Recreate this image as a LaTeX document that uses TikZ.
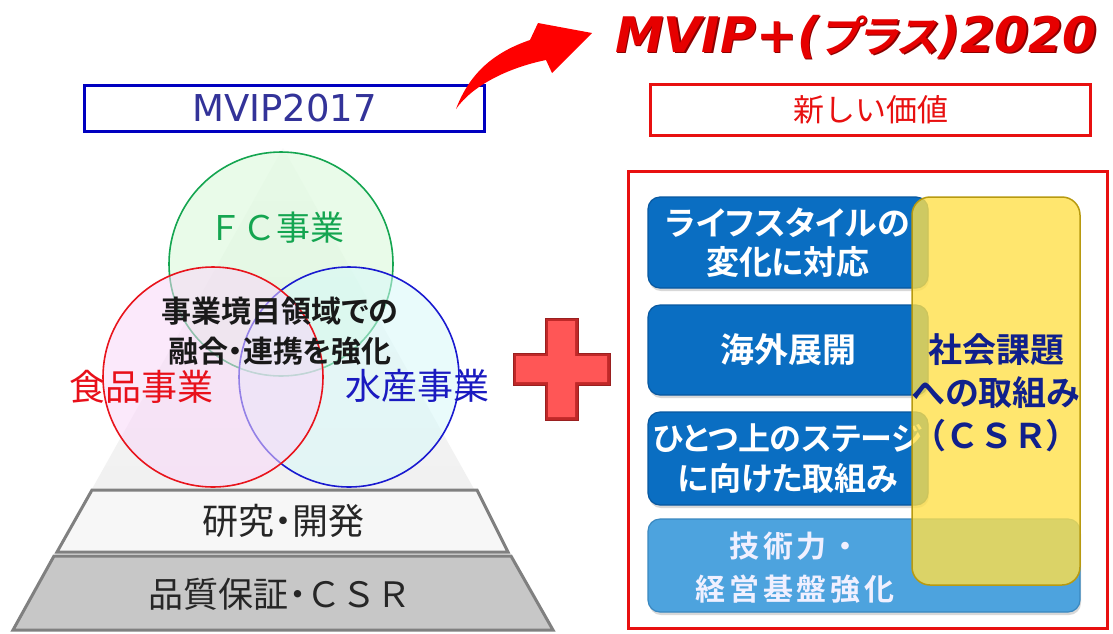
\documentclass[tikz,border=0pt]{standalone}
\usepackage{fontspec}
\setmainfont{DejaVu Sans}
\newfontfamily\jp[RawFeature=+palt,BoldFont={Noto Sans CJK JP Bold}]{Noto Sans CJK JP}
\newfontfamily\jpf[BoldFont={Noto Sans CJK JP Bold}]{Noto Sans CJK JP}
\newfontfamily\jpsl[FakeSlant=0.2,RawFeature=+palt]{Noto Sans CJK JP Bold}
\newfontfamily\dvs{DejaVu Sans}
\usetikzlibrary{shadows}
\newcommand\fsz[2]{\fontsize{#1}{#2}\selectfont}
\definecolor{boxblue}{HTML}{0000C0}
\definecolor{oldtxt}{HTML}{333399}
\definecolor{newred}{HTML}{E81010}
\definecolor{titred}{HTML}{E60000}
\definecolor{titdark}{HTML}{8A0000}
\definecolor{arrred}{HTML}{FF0000}
\definecolor{fcgreen}{HTML}{14A550}
\definecolor{redline}{HTML}{E8141C}
\definecolor{blueline}{HTML}{1A1AD0}
\definecolor{foodred}{HTML}{E8101A}
\definecolor{seablue}{HTML}{1A1AC0}
\definecolor{barblue}{HTML}{0A6EC2}
\definecolor{baredge}{HTML}{0858A0}
\definecolor{lightbar}{HTML}{4DA3DE}
\definecolor{lightedge}{HTML}{3A88C0}
\definecolor{csryel}{HTML}{FFE04A}
\definecolor{csredge}{HTML}{B89A10}
\definecolor{csrtxt}{HTML}{10208C}
\definecolor{plusred}{HTML}{FF5656}
\definecolor{plusdark}{HTML}{C02828}
\definecolor{pyredge}{HTML}{808080}
\definecolor{gfill}{RGB}{215,249,215}
\definecolor{rfill}{RGB}{249,215,249}
\definecolor{bfill}{RGB}{215,249,249}
\tikzset{
  framebox/.style={draw, line width=3pt, inner sep=0pt},
  bar/.style={draw=baredge, fill=barblue, line width=1.2pt, rounded corners=12pt,
    minimum width=280pt, inner sep=0pt, text=white, align=center,
    drop shadow={shadow xshift=1pt, shadow yshift=-3pt, opacity=0.3}},
  venn/.style={circle, line width=1.6pt, fill opacity=0.55, inner sep=0pt},
  tier/.style={line width=3pt, draw=pyredge},
}
\begin{document}
\begin{tikzpicture}[x=1pt,y=-1pt]
\useasboundingbox (0,0) rectangle (1113,633);
\fill[white] (0,0) rectangle (1113,633);
% pyramid
\shade[top color=black!2, bottom color=black!7] (283,148) -- (553,630) -- (13,630) -- cycle;
\filldraw[tier, fill=black!3] (92,490) -- (477,490) -- (508,552) -- (57,552) -- cycle;
\filldraw[tier, fill=black!22] (54,556) -- (511,556) -- (553,630) -- (13,630) -- cycle;
% venn circles
\node[venn, draw=fcgreen, fill=gfill, minimum size=224pt] (cg) at (281,264) {};
\node[venn, draw=blueline, fill=bfill, minimum size=220pt] (cb) at (349,377) {};
\node[venn, draw=redline, fill=rfill, minimum size=220pt] (cr) at (213,377) {};
\node[text=fcgreen, font=\jpf\fsz{34}{34}] (fc) at (276,228) {ＦＣ事業};
\node[text=black!90, font=\jp\bfseries\fsz{30}{40}, align=center] (fuse) at (280,331) {事業境目領域での\\融合・連携を強化};
\node[text=foodred, font=\jpf\fsz{36}{36}] (food) at (141,387) {食品事業};
\node[text=seablue, font=\jpf\fsz{36}{36}] (sea) at (417,386) {水産事業};
\node[text=black!85, font=\jp\fsz{36}{36}] (rd) at (283,521) {研究・開発};
\node[text=black!85, font=\jpf\fsz{35}{35}] (qa) at (280,594) {品質保証{\jp ・}ＣＳＲ};
% header boxes
\node[framebox, draw=boxblue, text=oldtxt, font=\dvs\fsz{37}{37}, minimum width=400pt, minimum height=46pt] (old) at (284.5,108.5) {MVIP2017};
\node[framebox, draw=newred, text=newred, font=\jpf\fsz{31}{31}, minimum width=440pt, minimum height=51pt] (newv) at (870.5,110) {新しい価値};
% arrow
\fill[arrred] (456,109) .. controls (470,72) and (495,52) .. (530,40) -- (538,23) -- (592,33) -- (552,73) -- (546,60) .. controls (507,68) and (472,86) .. (456,109) -- cycle;
% title
\node[anchor=base west, inner sep=0pt, text=titdark] (titsh) at (616.6,53.6) {{\dvs\bfseries\itshape\fsz{49}{49}MVIP+(}{\jpsl\fsz{43}{43}プラス}{\dvs\bfseries\itshape\fsz{49}{49})2020}};
\node[anchor=base west, inner sep=0pt, text=titred] (title) at (615,52) {{\dvs\bfseries\itshape\fsz{49}{49}MVIP+(}{\jpsl\fsz{43}{43}プラス}{\dvs\bfseries\itshape\fsz{49}{49})2020}};
% plus sign
\filldraw[fill=plusdark, draw=plusdark!80!black, line width=1pt] (545,318) -- (578,318) -- (578,353) -- (610,353) -- (610,385) -- (578,385) -- (578,420) -- (545,420) -- (545,385) -- (513,385) -- (513,353) -- (545,353) -- cycle;
\fill[plusred] (548,321) -- (575,321) -- (575,356) -- (607,356) -- (607,382) -- (575,382) -- (575,417) -- (548,417) -- (548,382) -- (516,382) -- (516,356) -- (548,356) -- cycle;
% right frame
\node[framebox, draw=newred, minimum width=479pt, minimum height=457pt] (frame) at (868,400) {};
% bars
\node[bar, minimum height=91pt, font=\jp\bfseries\fsz{33}{39}] (b1) at (788,242.5) {ライフスタイルの\\変化に対応};
\node[bar, minimum height=90pt, font=\jp\bfseries\fsz{34}{34}] (b2) at (788,350) {海外展開};
\node[bar, minimum height=93pt, font=\jp\bfseries\fsz{32}{40}] (b3) at (788,458.5) {ひとつ上のステージ\\に向けた取組み};
\node[bar, draw=lightedge, fill=lightbar, minimum width=432pt, minimum height=93pt] (b4) at (864,565.5) {};
\node[text=white!94!blue, font=\jpf\bfseries\fsz{30}{43}\addfontfeatures{LetterSpace=13}, align=center] (b4t) at (795,568) {技術力・\\経営基盤強化};
% CSR
\node[draw=csredge, fill=csryel, fill opacity=0.8, line width=1.5pt, rounded corners=18pt, minimum width=168pt, minimum height=388pt] (csr) at (996,391) {};
\node[text=csrtxt, font=\jp\bfseries\fsz{34}{43}, align=center] (csrt) at (996,393) {社会課題\\への取組み\\{\jp （}{\jpf\bfseries ＣＳＲ}{\jp ）}};
\end{tikzpicture}
\end{document}
